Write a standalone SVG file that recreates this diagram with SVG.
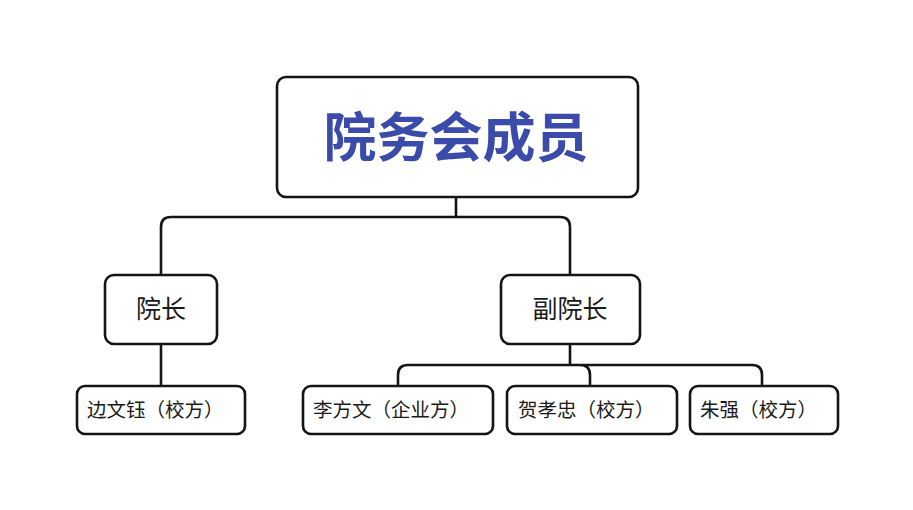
<svg xmlns="http://www.w3.org/2000/svg" width="913" height="510" viewBox="0 0 913 510">
<style>
.box{fill:#fff;stroke:#141414;stroke-width:2.6}
.conn{fill:none;stroke:#141414;stroke-width:2.6}
.t{font-family:"Noto Sans CJK SC","Noto Sans",sans-serif;fill:#1a1a1a}
.title{font-family:"Noto Sans CJK SC","Noto Sans",sans-serif;font-weight:bold;fill:#3b4ba9;font-size:53px}
.mid{font-size:25px}
.leaf{font-size:19.5px}
</style>
<rect width="913" height="510" fill="#fff"/>
<g id="connectors">
<path class="conn" d="M456,197 V217 M161,275 V227 Q161,217 171,217 H560 Q570,217 570,227 V275"/>
<path class="conn" d="M161,344 V386"/>
<path class="conn" d="M570,344 V365 M398,386 V375 Q398,365 408,365 H752 Q762,365 762,375 V386 M580,365 Q590,365 590,375 V386"/>
</g>
<g id="root">
<rect class="box" x="277" y="77" width="361" height="120" rx="9"/>
<text class="title" x="456" y="157" text-anchor="middle">院务会成员</text>
</g>
<g id="president">
<rect class="box" x="105" y="275" width="112" height="69" rx="9"/>
<text class="t mid" x="161" y="318" text-anchor="middle">院长</text>
</g>
<g id="vice">
<rect class="box" x="501" y="275" width="139" height="69" rx="9"/>
<text class="t mid" x="570" y="318" text-anchor="middle">副院长</text>
</g>
<g id="bian">
<rect class="box" x="77" y="386" width="168" height="48" rx="8"/>
<text class="t leaf" x="87" y="417">边文钰（校方）</text>
</g>
<g id="li">
<rect class="box" x="303" y="386" width="190" height="48" rx="8"/>
<text class="t leaf" x="313" y="417">李方文（企业方）</text>
</g>
<g id="he">
<rect class="box" x="507" y="386" width="170" height="48" rx="8"/>
<text class="t leaf" x="518" y="417">贺孝忠（校方）</text>
</g>
<g id="zhu">
<rect class="box" x="690" y="386" width="148" height="48" rx="8"/>
<text class="t leaf" x="700" y="417">朱强（校方）</text>
</g>
</svg>
